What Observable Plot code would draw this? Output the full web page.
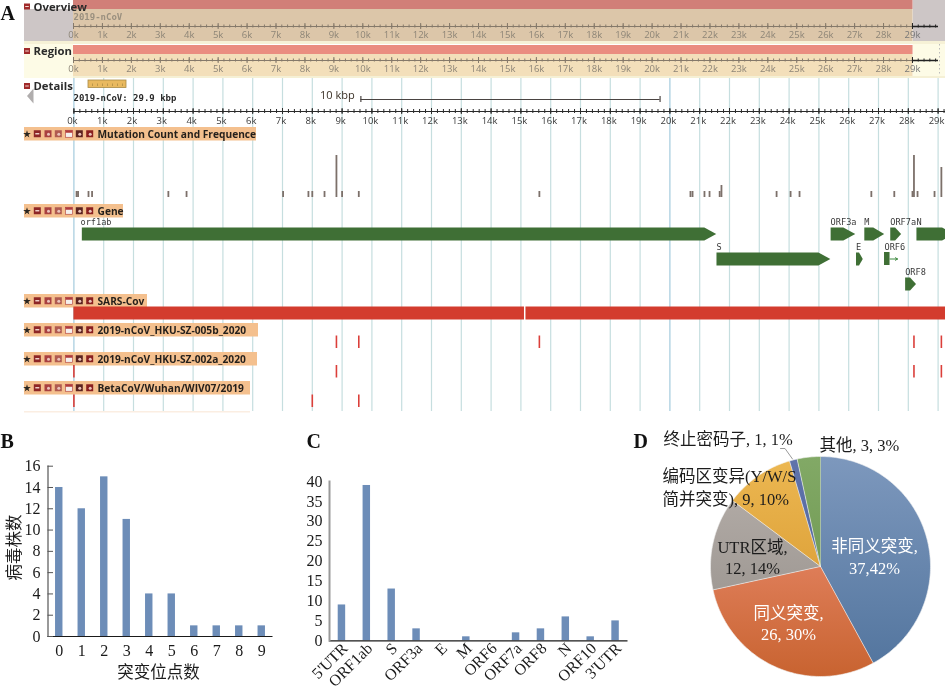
<!DOCTYPE html>
<html><head><meta charset="utf-8">
<style>html,body{margin:0;padding:0;background:#fff;overflow:hidden}#root{position:relative;width:945px;height:692px;filter:blur(.3px)}</style>
<script src="https://cdn.jsdelivr.net/npm/d3@7"></script>
<script src="https://cdn.jsdelivr.net/npm/@observablehq/plot@0.6"></script>
</head><body><div id="root"></div>
<script>
// ---- Panel A data (genome positions in kb) ----
const genomeTicks = d3.range(0, 31);
const minorTicks = d3.range(0, 30.01, 0.2);
const mutationKb = [0.09,0.14,0.49,0.61,3.17,3.78,7.02,7.87,8.0,8.41,8.81,9.0,9.56,15.62,20.69,20.76,21.16,21.33,21.67,21.73,23.58,24.05,24.35,26.76,27.53,28.14,28.19,28.31,28.88,29.11];
const mutationCount = [1,1,1,1,1,1,1,1,1,1,7,1,1,1,1,1,1,1,1,2,1,1,1,1,1,1,7,1,1,5];
const geneNames = ["orf1ab","S","ORF3a","E","M","ORF6","ORF7a","ORF8","N"];
const geneStart = [0.266,21.563,25.393,26.245,26.523,27.202,27.394,27.894,28.274];
const geneEnd = [21.555,25.384,26.22,26.472,27.191,27.387,27.759,28.259,29.533];
const geneLane = [0,1,0,1,0,1,0,2,0];
const strain005b = [8.81,9.56,15.62,28.19,29.11];
const strain002a = [0,8.81,28.19,29.11];
const strainWIV07 = [0,8,9.56];
const sarsSegments = [[0,15.12],[15.17,30]];
// ---- Panel B ----
const siteCounts = ["0","1","2","3","4","5","6","7","8","9"];
const strainCounts = [14,12,15,11,4,4,1,1,1,1];
// ---- Panel C ----
const regions = ["5'UTR","ORF1ab","S","ORF3a","E","M","ORF6","ORF7a","ORF8","N","ORF10","3'UTR"];
const regionCounts = [9,39,13,3,0,1,0,2,3,6,1,5];
// ---- Panel D ----
const pieValues = [37,26,12,9,1,3];
const pieTop = ["#7d98bd","#de7d58","#b0a9a4","#ecb751","#5f73ab","#82a966"];
const pieBottom = ["#54769f","#c86330","#a09a95","#dfa43c","#5468a0","#739c56"];

const W=945,H=692;
const base={width:W,height:H,margin:0,style:{position:"absolute",left:0,top:0,background:"transparent",overflow:"visible"}};
const px={x:{domain:[0,W],range:[0,W],axis:null},y:{domain:[0,H],range:[0,H],axis:null}};
const root=document.getElementById("root");
const add=o=>root.appendChild(Plot.plot({...base,...o}));
const sans='"Open Sans"';
const serif='"Liberation Serif","Noto Sans CJK SC"';
const mono='"DejaVu Sans Mono"';

// background bands
const ovX={domain:[0,29.9],range:[73,938],axis:null};
const detX={domain:[0,29],range:[73.4,73.4+29.8*29],axis:null};
const win=[{x1:0,x2:29.02}];
add({...px,marks:[
  Plot.rect([{a:24,b:73,c:9,d:41}],{x1:"a",x2:"b",y1:"c",y2:"d",fill:"#cdc6c6"}),
  Plot.rect([{a:912.7,b:945,c:0,d:41}],{x1:"a",x2:"b",y1:"c",y2:"d",fill:"#cdc6c6"}),
  Plot.rect([{a:24,b:945,c:41,d:44}],{x1:"a",x2:"b",y1:"c",y2:"d",fill:"#f6f1d6"}),
  Plot.rect([{a:24,b:73,c:44,d:78}],{x1:"a",x2:"b",y1:"c",y2:"d",fill:"#fdfbe6"}),
  Plot.rect([{a:912.7,b:945,c:44,d:76}],{x1:"a",x2:"b",y1:"c",y2:"d",fill:"#fdfbe6"}),
  Plot.rect([{a:73,b:945,c:76,d:78}],{x1:"a",x2:"b",y1:"c",y2:"d",fill:"#f5f0d5"}),
  Plot.ruleX([939],{y1:44,y2:76,stroke:"#bbb",strokeDasharray:"1.5,2.5"}),
]});
// overview + region
const ovAxis=(yAxis,yLab,col)=>[
  Plot.ruleY([yAxis],{x1:0,x2:29.9,stroke:col}),
  Plot.ruleX(minorTicks.filter(d=>d<=29.9),{x:d=>d,y1:yAxis-1.5,y2:yAxis+1.5,stroke:d=>d>=29?"#222":col,strokeWidth:1}),
  Plot.ruleX(genomeTicks.slice(0,30),{x:d=>d,y1:yAxis-3,y2:yAxis+3,stroke:d=>d>=29?"#222":col}),
  Plot.ruleY([yAxis],{x1:29,x2:29.9,stroke:"#222",strokeWidth:1.5}),
  Plot.text(genomeTicks.slice(0,30),{x:d=>d,y:yLab,text:d=>d+"k",fontSize:9.5,fontFamily:sans,fill:d=>d==29?"#777":"#8d8577"}),
];
add({x:ovX,y:px.y,color:{type:"identity"},marks:[
  Plot.rect(win,{x1:"x1",x2:"x2",y1:0,y2:9,fill:"#d17f78"}),
  Plot.rect(win,{x1:"x1",x2:"x2",y1:9,y2:41,fill:"#dcc6a9"}),
  Plot.rect(win,{x1:"x1",x2:"x2",y1:45,y2:54,fill:"#ea8d80"}),
  Plot.rect(win,{x1:"x1",x2:"x2",y1:54,y2:76,fill:"#f3dfba"}),
  ...ovAxis(26,34,"#85796a"),
  ...ovAxis(60,68,"#85796a"),
  Plot.text(["2019-nCoV"],{x:()=>0,y:16.5,text:d=>d,textAnchor:"start",fontSize:9,fontWeight:"bold",fontFamily:mono,fill:"#9a907f"}),
]});
// gridlines for details
add({x:detX,y:px.y,marks:[
  Plot.ruleX(genomeTicks.slice(0,30),{x:d=>d,y1:78,y2:411,stroke:d=>(d==0||d==20)?"#a4cbdd":"#c6dedf",strokeWidth:1.2}),
]});
// track headers
const headRows=[
  {name:"Mutation Count and Frequence",y1:127,y2:140.5,x2:256},
  {name:"Gene",y1:204,y2:217.5,x2:123},
  {name:"SARS-Cov",y1:294,y2:307.5,x2:147},
  {name:"2019-nCoV_HKU-SZ-005b_2020",y1:323,y2:336.5,x2:258},
  {name:"2019-nCoV_HKU-SZ-002a_2020",y1:352,y2:365.5,x2:257},
  {name:"BetaCoV/Wuhan/WIV07/2019",y1:381,y2:394.5,x2:250},
];
const iconX=[37.3,48,58.3,69,79.3,89.7];
const iconFill=["#8e2626","#a94040","#b05a50","#f4f0ee","#5c2320","#8a2020"];
const icons=headRows.flatMap(r=>iconX.map((x,i)=>({x,y:(r.y1+r.y2)/2,i})));
const panelMinus=[{x:27,y:6.5},{x:27,y:51},{x:27,y:86}];
add({...px,color:{type:"identity"},marks:[
  Plot.rect(headRows,{x1:24,x2:"x2",y1:"y1",y2:"y2",fill:"#f4c08e"}),
  Plot.rect([0],{x1:24,x2:250,y1:411,y2:412.5,fill:"#fbeee2"}),
  Plot.dot(headRows,{x:26.5,y:d=>(d.y1+d.y2)/2,symbol:"star",r:2.4,fill:"#2a2520"}),
  Plot.rect(icons,{x1:d=>d.x-3.5,x2:d=>d.x+3.5,y1:d=>d.y-3.5,y2:d=>d.y+3.5,fill:d=>iconFill[d.i],stroke:d=>d.i==3?"#b03a3a":"none",strokeWidth:.6}),
  Plot.rect(icons.filter(d=>d.i==0),{x1:d=>d.x-2,x2:d=>d.x+2,y1:d=>d.y-.7,y2:d=>d.y+.7,fill:"#f3d8d0"}),
  Plot.rect(icons.filter(d=>d.i==3),{x1:d=>d.x-3.5,x2:d=>d.x+3.5,y1:d=>d.y-3.5,y2:d=>d.y-1,fill:"#b03a3a"}),
  Plot.dot(icons.filter(d=>d.i==1||d.i==2||d.i==4||d.i==5),{x:"x",y:"y",r:1.5,fill:"#e9c3bb"}),
  Plot.text(headRows,{x:97,y:d=>(d.y1+d.y2)/2+.2,text:"name",textAnchor:"start",fontSize:10.2,fontWeight:700,fontFamily:sans,fill:"#241f1b"}),
  Plot.rect(panelMinus,{x1:d=>d.x-3,x2:d=>d.x+3,y1:d=>d.y-3,y2:d=>d.y+3,fill:"#a02a2a"}),
  Plot.rect(panelMinus,{x1:d=>d.x-1.8,x2:d=>d.x+1.8,y1:d=>d.y-.5,y2:d=>d.y+.5,fill:"#f3d8d0"}),
  Plot.text(["Overview","Region","Details"],{x:33,y:(d,i)=>[7,51,86][i],text:d=>d,textAnchor:"start",fontSize:11.3,fontWeight:700,fontFamily:sans,fill:"#2b2b2b"}),
  Plot.line([{x:33,y:88},{x:26.5,y:95.5},{x:33,y:103}],{x:"x",y:"y",fill:"#b0adad",stroke:"none"}),
  Plot.rect([0],{x1:88,x2:126,y1:80,y2:87.5,fill:"#e9b95f",stroke:"#a98a45",strokeWidth:.8}),
  Plot.ruleX([92,97,102,107,112,117,122],{y1:83.5,y2:86,stroke:"#a98a45",strokeWidth:.7}),
  Plot.text(["2019-nCoV: 29.9 kbp"],{x:73,y:98,text:d=>d,textAnchor:"start",fontSize:9,fontWeight:"bold",fontFamily:mono,fill:"#2a2a2a"}),
  Plot.text(["10 kbp"],{x:319.5,y:95,text:d=>d,textAnchor:"start",fontSize:11,fontFamily:sans,fill:"#3a3026"}),
]});
// details axis, genes, strains
const head=(s,e)=>Math.min(0.4,(e-s)*0.55);
const laneTop=[227,252,277],laneH=13;
const genes=geneNames.map((name,i)=>({name,s:geneStart[i],e:geneEnd[i],lane:geneLane[i]}));
const genePoly=genes.filter(g=>g.name!="ORF6").flatMap(g=>{const t=laneTop[g.lane],b=t+laneH,h=head(g.s,g.e);
  return [[g.s,t],[g.e-h,t],[g.e,t+laneH/2],[g.e-h,b],[g.s,b]].map(([x,y])=>({name:g.name,x,y}));});
const orf6=genes.find(g=>g.name=="ORF6");
const rows=[[strain005b,335.5,348],[strain002a,365,377.5],[strainWIV07,394.5,407]];
add({x:detX,y:px.y,marks:[
  Plot.ruleY([111],{x1:0,x2:30,stroke:"#2a2a2a"}),
  Plot.ruleX(minorTicks,{x:d=>d,y1:109,y2:113,stroke:"#2a2a2a",strokeWidth:1}),
  Plot.ruleX(genomeTicks.slice(0,30),{x:d=>d,y1:108,y2:114,stroke:"#2a2a2a"}),
  Plot.text(genomeTicks.slice(0,30),{x:d=>d,dx:-1.5,y:120,text:d=>d+"k",fontSize:9.5,fontFamily:sans,fill:"#3a3a3a"}),
  Plot.ruleY([99],{x1:9.63,x2:19.67,stroke:"#4a4442",strokeWidth:1.2}),
  Plot.ruleX([9.63,19.67],{x:d=>d,y1:96,y2:102,stroke:"#4a4442",strokeWidth:1.2}),
  Plot.line(genePoly,{x:"x",y:"y",z:"name",fill:"#3f6f35",stroke:"none",clip:false}),
  Plot.rect([orf6],{x1:"s",x2:"e",y1:laneTop[1],y2:laneTop[1]+laneH,fill:"#3f6f35"}),
  Plot.arrow([orf6],{x1:"e",x2:()=>27.64,y1:laneTop[1]+laneH/2,y2:laneTop[1]+laneH/2,stroke:"#3f8a40",strokeWidth:1,headLength:10,bend:0}),
  Plot.text(genes,{x:d=>d.name=="orf1ab"?0.22:d.s,y:d=>laneTop[d.lane]-5,text:"name",textAnchor:"start",fontSize:8.6,fontFamily:mono,fill:"#3a3a3a"}),
  Plot.rect(sarsSegments.map(([a,b])=>({a,b})),{x1:"a",x2:"b",y1:306.5,y2:319.5,fill:"#d33c2e"}),
  ...rows.map(([v,a,b])=>Plot.ruleX(v,{x:d=>d,y1:a,y2:b,stroke:"#db3f3a",strokeWidth:1.6})),
]});
// mutation histogram
add({x:detX,y:{domain:[0,7],range:[197,155],axis:null},marks:[
  Plot.ruleX(mutationKb.map((kb,i)=>({kb,c:mutationCount[i]})),{x:"kb",y1:()=>0,y2:"c",stroke:"#7c706a",strokeWidth:1.8}),
]});
// Panel B
add({marginLeft:47.5,marginRight:W-272.5,marginTop:465.7,marginBottom:H-636,
  x:{domain:siteCounts,paddingInner:.67,paddingOuter:.335,round:false,label:null},
  y:{domain:[0,16],label:null},
  marks:[
    Plot.barY(siteCounts,{x:d=>d,y:(d,i)=>strainCounts[i],fill:"#6d8db8"}),
    Plot.ruleY([0],{stroke:"#1a1a1a",strokeWidth:1.2}),
    Plot.frame({anchor:"left",stroke:"#555",strokeWidth:1.2}),
    Plot.axisX({tickSize:0,tickPadding:8,fontSize:16,fontFamily:serif,label:null,color:"#1a1a1a"}),
    Plot.axisY({ticks:d3.range(0,17,2),tickSize:-5.5,tickPadding:13,fontSize:16,fontFamily:serif,label:null,color:"#1a1a1a",stroke:"#555"}),
  ]});
// Panel C
add({marginLeft:329,marginRight:W-627.5,marginTop:481,marginBottom:H-640.3,
  x:{domain:regions,paddingInner:.7,paddingOuter:.35,round:false,label:null},
  y:{domain:[0,40],label:null},
  marks:[
    Plot.barY(regions,{x:d=>d,y:(d,i)=>regionCounts[i],fill:"#6d8db8"}),
    Plot.ruleY([0],{stroke:"#1a1a1a",strokeWidth:1.2}),
    Plot.frame({anchor:"left",stroke:"#999",strokeWidth:2}),
    Plot.axisX({tickSize:0,tickPadding:5,tickRotate:-45,fontSize:16,fontFamily:serif,label:null,color:"#1a1a1a",dx:3}),
    Plot.axisY({ticks:d3.range(0,41,5),tickSize:0,tickPadding:7,fontSize:16,fontFamily:serif,label:null,color:"#1a1a1a"}),
  ]});
// Panel D pie
const tot=d3.sum(pieValues);
let acc=0;
const slices=pieValues.map((v,i)=>{const a0=acc/tot*2*Math.PI;acc+=v;const a1=acc/tot*2*Math.PI;
  const n=Math.max(2,Math.ceil((a1-a0)/0.02));
  const pts=[{x:0,y:0},...d3.range(n+1).map(k=>{const a=a0+(a1-a0)*k/n;return {x:Math.sin(a),y:-Math.cos(a)};})];
  return {i,pts};});
add({x:{domain:[-1,1],range:[710,930],axis:null},y:{domain:[-1,1],range:[456,676],axis:null},marks:[
  ()=>{const s=d3.create("svg:defs");pieValues.forEach((_,i)=>{const g=s.append("linearGradient").attr("id","pg"+i).attr("x1",0).attr("x2",0).attr("y1",0).attr("y2",1);
    g.append("stop").attr("offset",0).attr("stop-color",pieTop[i]);g.append("stop").attr("offset",1).attr("stop-color",pieBottom[i]);});return s.node();},
  ...slices.map(s=>Plot.line(s.pts,{x:"x",y:"y",fill:`url(#pg${s.i})`,stroke:"#f4f4f4",strokeWidth:.6})),
]});
// labels
const labelsStart=[
  ["终止密码子, 1, 1%",663,439],["其他, 3, 3%",819,445],
  ["编码区变异(Y/W/S",662,476],["简并突变), 9, 10%",662,499],
];
const labelsDark=[["UTR区域,",752,547],["12, 14%",752,568]];
const labelsLight=[["非同义突变,",874,546],["37,42%",874,568],["同义突变,",788,613],["26, 30%",788,634]];
const panelLetters=[["A",0,13],["B",0,441],["C",306,441],["D",633,441]];
const lab=(arr,fill,anchor)=>Plot.text(arr,{x:d=>d[1],y:d=>d[2],text:d=>d[0],textAnchor:anchor,fontSize:16.5,fontFamily:serif,fill});
add({...px,marks:[
  Plot.line([{x:780,y:448},{x:784.5,y:448},{x:792,y:458.5}],{x:"x",y:"y",stroke:"#999",strokeWidth:1}),
  lab(labelsStart,"#1c1c1c","start"),lab(labelsDark,"#1c1c1c","middle"),lab(labelsLight,"#fff","middle"),
  Plot.text(panelLetters,{x:d=>d[1],y:d=>d[2],text:d=>d[0],textAnchor:"start",fontSize:20,fontWeight:"bold",fontFamily:serif,fill:"#111"}),
  Plot.text(["突变位点数"],{x:158,y:672,text:d=>d,fontSize:16.5,fontFamily:serif,fill:"#1c1c1c"}),
  Plot.text(["病毒株数"],{x:14,y:547,text:d=>d,rotate:-90,fontSize:16.5,fontFamily:serif,fill:"#1c1c1c"}),
]});
</script></body></html>
